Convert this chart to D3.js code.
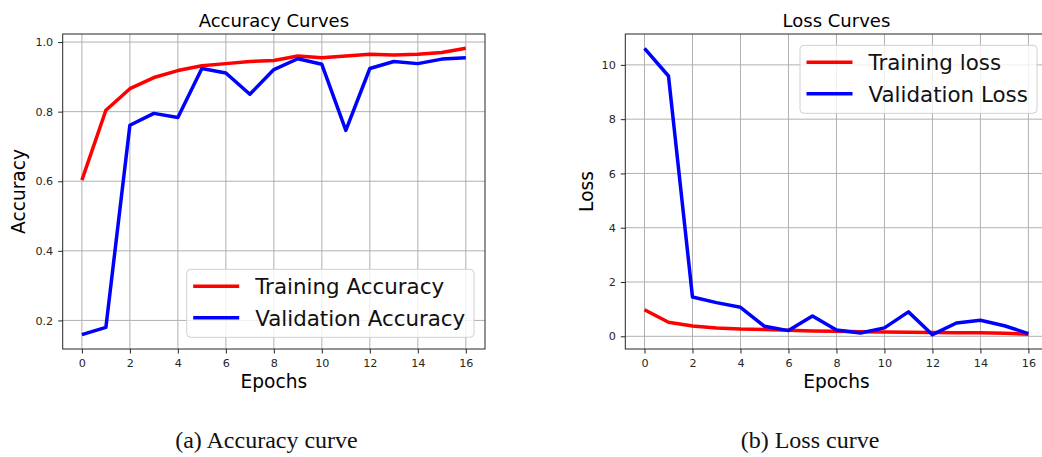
<!DOCTYPE html>
<html>
<head>
<meta charset="utf-8">
<script src="https://cdn.jsdelivr.net/npm/d3@7"></script>
<style>
  body { margin: 0; background: #fff; }
  svg { display: block; }
</style>
</head>
<body>
<script>
const WIDTH = 1042;
const HEIGHT = 457;

// epochs 0..16
const epochs = [0, 1, 2, 3, 4, 5, 6, 7, 8, 9, 10, 11, 12, 13, 14, 15, 16];

const trainAcc = [0.603, 0.804, 0.866, 0.898, 0.918, 0.932, 0.938, 0.944, 0.947,
                  0.960, 0.955, 0.960, 0.965, 0.963, 0.965, 0.970, 0.982];
const valAcc = [0.159, 0.180, 0.761, 0.795, 0.783, 0.924, 0.911, 0.850, 0.921,
                0.952, 0.936, 0.746, 0.924, 0.944, 0.938, 0.951, 0.955];

const trainLoss = [0.98, 0.52, 0.38, 0.31, 0.27, 0.25, 0.22, 0.20, 0.19,
                   0.17, 0.16, 0.15, 0.14, 0.13, 0.13, 0.11, 0.08];
const valLoss = [10.61, 9.59, 1.45, 1.24, 1.07, 0.37, 0.21, 0.75, 0.23,
                 0.12, 0.31, 0.90, 0.06, 0.49, 0.59, 0.39, 0.10];

const xTicks = [0, 2, 4, 6, 8, 10, 12, 14, 16];
const accTicks = [0.2, 0.4, 0.6, 0.8, 1.0];
const lossTicks = [0, 2, 4, 6, 8, 10];

const accLegend = ['Training Accuracy', 'Validation Accuracy'];
const lossLegend = ['Training loss', 'Validation Loss'];
const COLORS = ['#ff0000', '#0000ff'];

const svg = d3.select('body')
    .append('svg')
    .attr('width', WIDTH)
    .attr('height', HEIGHT);

// matplotlib style 5% padding on both axes
function padded(lo, hi) {
    const m = (hi - lo) * 0.05;
    return [lo - m, hi + m];
}

function drawPanel(p) {
    const g = svg.append('g')
        .attr('transform', `translate(${p.left}, ${p.top})`);

    const allY = p.series.flat();
    const x = d3.scaleLinear()
        .domain(padded(d3.min(epochs), d3.max(epochs)))
        .range([0, p.w]);
    const y = d3.scaleLinear()
        .domain(padded(d3.min(allY), d3.max(allY)))
        .range([p.h, 0]);

    // grid
    g.append('g')
        .selectAll('line')
        .data(xTicks)
        .join('line')
        .attr('x1', d => x(d)).attr('x2', d => x(d))
        .attr('y1', 0).attr('y2', p.h)
        .attr('stroke', '#b0b0b0')
        .attr('stroke-width', 1);
    g.append('g')
        .selectAll('line')
        .data(p.yTicks)
        .join('line')
        .attr('x1', 0).attr('x2', p.w)
        .attr('y1', d => y(d)).attr('y2', d => y(d))
        .attr('stroke', '#b0b0b0')
        .attr('stroke-width', 1);

    // curves
    const line = d3.line()
        .x((d, i) => x(epochs[i]))
        .y(d => y(d));
    p.series.forEach((s, i) => {
        g.append('path')
            .datum(s)
            .attr('d', line)
            .attr('fill', 'none')
            .attr('stroke', COLORS[i])
            .attr('stroke-width', 3.5)
            .attr('stroke-linejoin', 'round');
    });

    // axes
    const xAxis = g.append('g')
        .attr('transform', `translate(0, ${p.h})`)
        .call(d3.axisBottom(x).tickValues(xTicks).tickSize(4.5).tickPadding(6));
    const yAxis = g.append('g')
        .call(d3.axisLeft(y).tickValues(p.yTicks).tickSize(4.5).tickPadding(5)
            .tickFormat(p.yFormat));
    [xAxis, yAxis].forEach(a => {
        a.select('.domain').remove();
        a.selectAll('text')
            .attr('font-family', 'DejaVu Sans')
            .attr('font-size', 11.2)
            .attr('fill', '#262626');
        a.selectAll('line').attr('stroke', '#262626');
    });

    // frame
    g.append('rect')
        .attr('width', p.w)
        .attr('height', p.h)
        .attr('fill', 'none')
        .attr('stroke', '#262626')
        .attr('stroke-width', 1);

    // title and labels
    g.append('text')
        .attr('x', p.w / 2).attr('y', -7.5)
        .attr('text-anchor', 'middle')
        .attr('font-family', 'DejaVu Sans')
        .attr('font-size', 18)
        .text(p.title);
    g.append('text')
        .attr('x', p.w / 2).attr('y', p.h + 38.5)
        .attr('text-anchor', 'middle')
        .attr('font-family', 'DejaVu Sans')
        .attr('font-size', 18.6)
        .text('Epochs');
    g.append('text')
        .attr('transform', `translate(${p.ylabelX}, ${p.h / 2}) rotate(-90)`)
        .attr('text-anchor', 'middle')
        .attr('font-family', 'DejaVu Sans')
        .attr('font-size', 18.6)
        .text(p.ylabel);

    // legend
    const lg = g.append('g')
        .attr('transform', `translate(${p.legX}, ${p.legY})`);
    lg.append('rect')
        .attr('width', p.legW).attr('height', 68)
        .attr('rx', 4)
        .attr('fill', 'white').attr('fill-opacity', 0.8)
        .attr('stroke', '#d0d0d0');
    p.legend.forEach((name, i) => {
        lg.append('line')
            .attr('x1', 6.5).attr('x2', 52.5)
            .attr('y1', 17 + i * 31.5).attr('y2', 17 + i * 31.5)
            .attr('stroke', COLORS[i])
            .attr('stroke-width', 3.5);
        lg.append('text')
            .attr('x', 68.5).attr('y', 25 + i * 31.5)
            .attr('font-family', 'DejaVu Sans')
            .attr('font-size', 21.4)
            .attr('fill', '#111')
            .text(name);
    });

    // caption
    svg.append('text')
        .attr('x', p.capX).attr('y', 448)
        .attr('text-anchor', 'middle')
        .attr('font-family', 'Liberation Serif, Times New Roman, serif')
        .attr('font-size', 24)
        .attr('fill', '#111')
        .text(p.caption);
}

drawPanel({
    left: 62.7, top: 34, w: 422.3, h: 315,
    series: [trainAcc, valAcc],
    yTicks: accTicks,
    yFormat: d3.format('.1f'),
    title: 'Accuracy Curves',
    ylabel: 'Accuracy',
    ylabelX: -38,
    legend: accLegend,
    legX: 124, legY: 235.3, legW: 287.3,
    caption: '(a) Accuracy curve',
    capX: 266.5
});

drawPanel({
    left: 625.3, top: 34, w: 422.3, h: 315,
    series: [trainLoss, valLoss],
    yTicks: lossTicks,
    yFormat: d3.format('d'),
    title: 'Loss Curves',
    ylabel: 'Loss',
    ylabelX: -32,
    legend: lossLegend,
    legX: 174.7, legY: 11.3, legW: 237,
    caption: '(b) Loss curve',
    capX: 810
});
</script>
</body>
</html>
